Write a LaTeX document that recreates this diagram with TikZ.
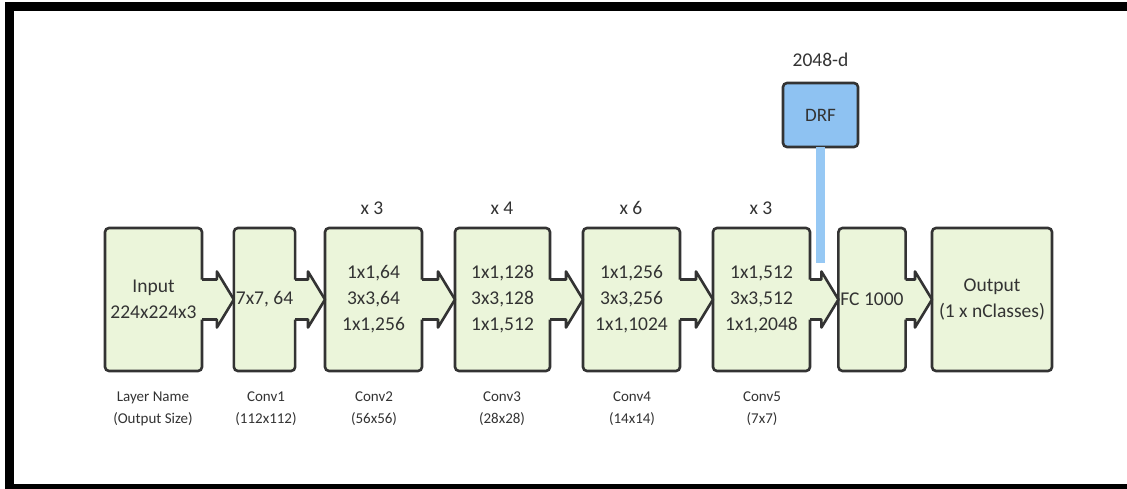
\documentclass[tikz,border=0pt]{standalone}
\usepackage{fontspec}
\setmainfont{Carlito}
\usepackage{xcolor}
\usepackage{tikz}
\usetikzlibrary{calc}
\definecolor{stagegreen}{HTML}{EBF5DA}
\definecolor{drfblue}{HTML}{8EC2F2}
\definecolor{tapblue}{HTML}{96C8F4}
\definecolor{inkgray}{HTML}{333333}
\tikzset{
  stagebox/.style={draw=inkgray,fill=stagegreen,line width=2.6pt,rounded corners=4pt,minimum height=143pt,
    outer sep=0pt,inner sep=2pt,align=center,text=inkgray,font=\fontsize{19.5}{26}\selectfont},
  stageline/.style={draw=inkgray,line width=2.6pt,line join=round},
  drfbox/.style={draw=inkgray,fill=drfblue,line width=2.6pt,rounded corners=4pt,minimum width=75pt,
    minimum height=64pt,outer sep=0pt,text=inkgray,font=\fontsize{19}{22}\selectfont},
  tapline/.style={tapblue,line width=9pt},
  reptext/.style={text=inkgray,font=\fontsize{19.5}{24}\selectfont},
  nametext/.style={text=inkgray,align=center,font=\fontsize{15}{22}\selectfont},
}
% block arrow from the right side of #1 to the left side of #2
\newcommand{\stagearrow}[2]{%
  \fill[stagegreen] ($(#1.east)+(-2,-20)$) -- ($(#2.west)+(-17,-20)$) -- ($(#2.west)+(-17,-28)$)
    -- (#2.west) -- ($(#2.west)+(-17,28)$) -- ($(#2.west)+(-17,20)$) -- ($(#1.east)+(-2,20)$) -- cycle;
  \draw[stageline] ($(#1.east)+(0,-20)$) -- ($(#2.west)+(-17,-20)$) -- ($(#2.west)+(-17,-28)$)
    -- (#2.west) -- ($(#2.west)+(-17,28)$) -- ($(#2.west)+(-17,20)$) -- ($(#1.east)+(0,20)$);
}

\begin{document}
\begin{tikzpicture}[x=1pt,y=-1pt]
  \useasboundingbox (0,0) rectangle (1127,489);
  \clip (0,0) rectangle (1127,489);
  \fill[white] (0,0) rectangle (1127,489);
  \draw[line width=9pt] (9,6.5) rectangle (1145,488.5);

  \node[stagebox,minimum width=97pt] (sIn) at (153.5,299.5) {Input\\224x224x3};
  \node[stagebox,minimum width=61pt] (sC1) at (264.5,299.5) {7x7, 64};
  \node[stagebox,minimum width=97pt] (sC2) at (373.5,299.5) {1x1,64\\3x3,64\\1x1,256};
  \node[stagebox,minimum width=95pt] (sC3) at (502.5,299.5) {1x1,128\\3x3,128\\1x1,512};
  \node[stagebox,minimum width=97pt] (sC4) at (631.5,299.5) {1x1,256\\3x3,256\\1x1,1024};
  \node[stagebox,minimum width=97pt] (sC5) at (761.5,299.5) {1x1,512\\3x3,512\\1x1,2048};
  \node[stagebox,minimum width=60pt] (sFC) at (872,299.5) {FC 1000};
  \node[stagebox,minimum width=120pt] (sOut) at (992,299.5) {Output\\(1 x nClasses)};

  \stagearrow{sIn}{sC1}
  \stagearrow{sC1}{sC2}
  \stagearrow{sC2}{sC3}
  \stagearrow{sC3}{sC4}
  \stagearrow{sC4}{sC5}
  \stagearrow{sC5}{sFC}
  \stagearrow{sFC}{sOut}

  \node[reptext] (rC2) at (372,208) {x 3};
  \node[reptext] (rC3) at (502,208) {x 4};
  \node[reptext] (rC4) at (631,208) {x 6};
  \node[reptext] (rC5) at (761,208) {x 3};

  \node[nametext] (nIn) at (153,409) {Layer Name\\(Output Size)};
  \node[nametext] (nC1) at (266,409) {Conv1\\(112x112)};
  \node[nametext] (nC2) at (374,409) {Conv2\\(56x56)};
  \node[nametext] (nC3) at (502,409) {Conv3\\(28x28)};
  \node[nametext] (nC4) at (632,409) {Conv4\\(14x14)};
  \node[nametext] (nC5) at (762,409) {Conv5\\(7x7)};

  \node[drfbox] (drf) at (820.5,115) {DRF};
  \node[reptext] (dimDRF) at (820.5,60) {2048-d};
  \coordinate (tap) at (820.5,263);
  \draw[tapline] (drf.south) -- (tap);
\end{tikzpicture}
\end{document}
